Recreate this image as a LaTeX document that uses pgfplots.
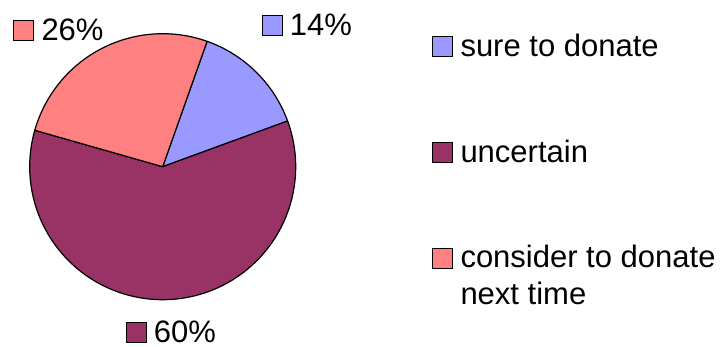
\documentclass[border=0pt]{standalone}
\usepackage{pgfplots}
\pgfplotsset{compat=1.18}
\usepackage{pgfplotstable}
\usepackage{fontspec}
\setmainfont{Liberation Sans}
\definecolor{cblue}{HTML}{9999FF}
\definecolor{cmaroon}{HTML}{993366}
\definecolor{cpink}{HTML}{FF8080}
\pgfplotstableread{
label value
sure 14
uncertain 60
consider 26
}\piedata
\begin{document}
\begin{tikzpicture}[lab/.style={font=\fontsize{31bp}{37bp}\selectfont, inner sep=0pt, outer sep=0pt, anchor=base west}]
\pgfplotstablegetelem{0}{value}\of\piedata \let\vA\pgfplotsretval
\pgfplotstablegetelem{1}{value}\of\piedata \let\vB\pgfplotsretval
\pgfplotstablegetelem{2}{value}\of\piedata \let\vC\pgfplotsretval
\pgfmathsetmacro{\aZero}{70.5}
\pgfmathsetmacro{\aOne}{\aZero-3.6*\vA}
\pgfmathsetmacro{\aTwo}{\aOne-3.6*\vB}
\pgfmathsetmacro{\aThree}{\aTwo-3.6*\vC}
\def\cx{162.7}\def\cy{166.7}\def\r{133}
\useasboundingbox (0,0) rectangle (727bp,347bp);
\begin{axis}[
  at={(0,0)}, anchor=south west,
  scale only axis, width=727bp, height=347bp,
  xmin=0, xmax=727, ymin=0, ymax=347, y dir=reverse,
  enlargelimits=false,
  hide axis, clip=false,
]
\addplot[fill=cblue, draw=black, line width=1.2bp, line join=round, domain=\aOne:\aZero, samples=80, variable=\t]
  ({\cx+\r*cos(\t)},{\cy-\r*sin(\t)}) -- (axis cs:\cx,\cy) -- cycle;
\addplot[fill=cmaroon, draw=black, line width=1.2bp, line join=round, domain=\aTwo:\aOne, samples=200, variable=\t]
  ({\cx+\r*cos(\t)},{\cy-\r*sin(\t)}) -- (axis cs:\cx,\cy) -- cycle;
\addplot[fill=cpink, draw=black, line width=1.2bp, line join=round, domain=\aThree:\aTwo, samples=100, variable=\t]
  ({\cx+\r*cos(\t)},{\cy-\r*sin(\t)}) -- (axis cs:\cx,\cy) -- cycle;
% data labels
\draw[fill=cpink, line width=1bp] (axis cs:13,20.7) rectangle (axis cs:33,40.7);
\node[lab] at (axis cs:41.5,40.7) {26\%};
\draw[fill=cblue, line width=1bp] (axis cs:262.7,16) rectangle (axis cs:282.7,36);
\node[lab] at (axis cs:289.8,36) {14\%};
\draw[fill=cmaroon, line width=1bp] (axis cs:126,322.5) rectangle (axis cs:146,342.3);
\node[lab, text depth=0pt] at (axis cs:153.8,342.2) {60\%};
% legend
\draw[fill=cblue, line width=1bp] (axis cs:432,37) rectangle (axis cs:452,57);
\node[lab] at (axis cs:460.5,56.7) {sure to donate};
\draw[fill=cmaroon, line width=1bp] (axis cs:432,142.3) rectangle (axis cs:452,162.3);
\node[lab] at (axis cs:460.5,162.5) {uncertain};
\draw[fill=cpink, line width=1bp] (axis cs:432,248.5) rectangle (axis cs:452,268.3);
\node[lab] at (axis cs:460.5,267.5) {consider to donate};
\node[lab] at (axis cs:460.5,304.5) {next time};
\end{axis}
\end{tikzpicture}
\end{document}
